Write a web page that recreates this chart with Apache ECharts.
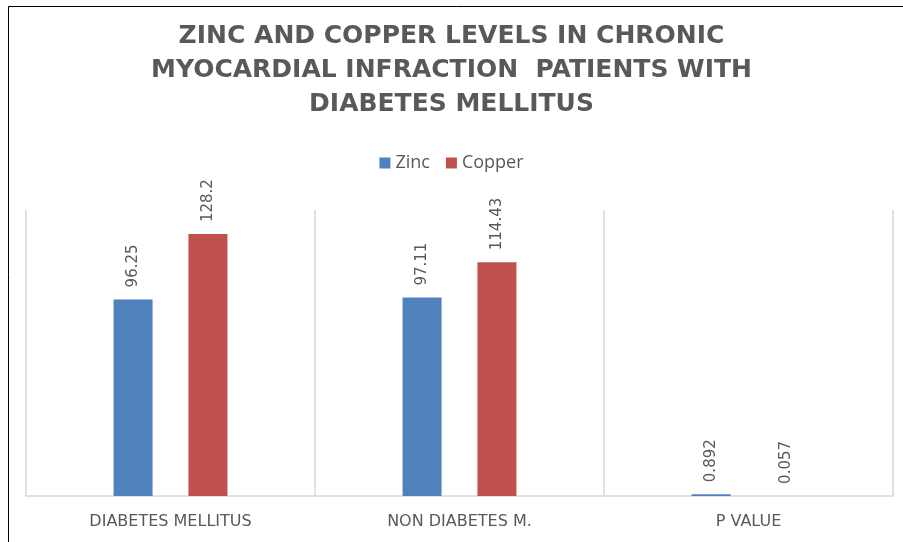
<!DOCTYPE html>
<html><head><meta charset="utf-8">
<script src="https://cdn.jsdelivr.net/npm/echarts@6/dist/echarts.min.js"></script>
<style>html,body{margin:0;padding:0;background:#fff}#c{width:903px;height:542px}</style>
</head><body><div id="c"></div>
<script>
var categories = ['DIABETES MELLITUS', 'NON DIABETES M.', 'P VALUE'];
var zinc = [96.25, 97.11, 0.892];
var copper = [128.2, 114.43, 0.057];
var titleLines = ['ZINC AND COPPER LEVELS IN CHRONIC', 'MYOCARDIAL INFRACTION  PATIENTS WITH', 'DIABETES MELLITUS'];

var chart = echarts.init(document.getElementById('c'));
var lbl = {
  show: true, position: 'top', rotate: 90, align: 'left', verticalAlign: 'middle',
  distance: 12, color: '#595959', fontSize: 15, fontFamily: 'DejaVu Sans'
};
chart.setOption({
  animation: false,
  title: {
    text: titleLines.join('\n'), left: 'center', top: 14,
    textStyle: { fontFamily: 'DejaVu Sans', fontWeight: 'bold', fontSize: 25, color: '#595959', lineHeight: 34 }
  },
  legend: {
    top: 149, left: 'center', itemWidth: 11, itemHeight: 11, itemGap: 16,
    icon: 'rect',
    textStyle: { fontFamily: 'Open Sans', fontSize: 18, color: '#595959', padding: [0, 0, 0, 0] },
    data: ['Zinc', 'Copper']
  },
  graphic: [{ type: 'rect', shape: { x: 8.5, y: 6.5, width: 2000, height: 2000 }, style: { fill: 'none', stroke: '#000', lineWidth: 1 }, silent: true }],
  grid: { left: 26, right: 10, top: 210, bottom: 46, containLabel: false },
  xAxis: {
    type: 'category', data: categories,
    axisLine: { lineStyle: { color: '#d9d9d9', width: 1.5 } },
    axisTick: { show: false },
    splitLine: { show: true, lineStyle: { color: '#d9d9d9', width: 1.5 } },
    axisLabel: { color: '#595959', fontSize: 16, fontFamily: 'DejaVu Sans', margin: 18 }
  },
  yAxis: { type: 'value', min: 0, max: 140, show: false, splitLine: { show: false } },
  series: [
    { name: 'Zinc', type: 'bar', data: zinc, barWidth: 39, barGap: '92%', itemStyle: { color: '#4f81bd' }, label: lbl },
    { name: 'Copper', type: 'bar', data: copper, barWidth: 39, itemStyle: { color: '#c0504d' }, label: lbl }
  ]
});
</script></body></html>
